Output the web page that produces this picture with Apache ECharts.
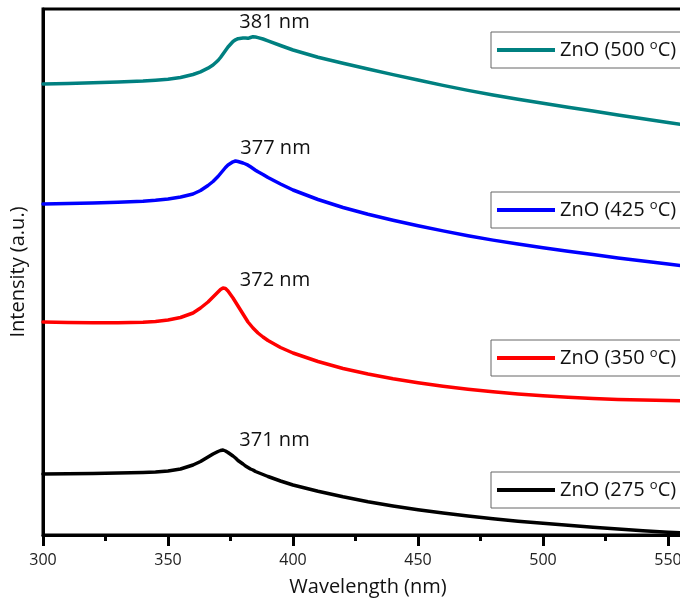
<!DOCTYPE html>
<html>
<head>
<meta charset="utf-8">
<script src="https://cdn.jsdelivr.net/npm/echarts@6/dist/echarts.min.js"></script>
<style>
  html, body { margin: 0; padding: 0; background: #fff; }
  #chart { width: 680px; height: 598px; }
</style>
</head>
<body>
<div id="chart"></div>
<script>
// Absorption spectra of ZnO films annealed at different temperatures (offset for clarity)
const wavelength = [300,310,320,330,340,345,350,355,360,363,366,368,370,371,372,373,374,376,377,378,380,381,382,383,384,385,386,388,390,395,400,410,420,430,440,450,460,470,480,490,500,510,520,530,540,550,555];

const zno275 = [0.59,0.592,0.595,0.60,0.605,0.61,0.62,0.64,0.68,0.715,0.76,0.79,0.815,0.825,0.83,0.82,0.805,0.77,0.75,0.725,0.69,0.67,0.655,0.64,0.63,0.615,0.605,0.585,0.565,0.52,0.48,0.418,0.362,0.313,0.27,0.232,0.199,0.169,0.142,0.118,0.097,0.077,0.058,0.04,0.023,0.008,0.002];
const zno350 = [2.11,2.106,2.103,2.102,2.107,2.115,2.13,2.155,2.20,2.25,2.31,2.36,2.41,2.435,2.45,2.445,2.42,2.35,2.31,2.27,2.19,2.15,2.11,2.08,2.05,2.025,2.00,1.96,1.925,1.855,1.80,1.715,1.645,1.59,1.543,1.503,1.468,1.438,1.412,1.39,1.372,1.357,1.345,1.336,1.33,1.325,1.322];
const zno425 = [3.29,3.295,3.30,3.308,3.318,3.327,3.34,3.36,3.39,3.425,3.475,3.515,3.565,3.595,3.625,3.655,3.68,3.712,3.72,3.715,3.70,3.69,3.678,3.662,3.645,3.628,3.612,3.585,3.555,3.49,3.43,3.335,3.255,3.188,3.128,3.072,3.021,2.973,2.929,2.889,2.853,2.818,2.784,2.751,2.72,2.69,2.675];
const zno500 = [4.49,4.495,4.503,4.51,4.52,4.528,4.538,4.555,4.585,4.612,4.648,4.68,4.725,4.755,4.79,4.825,4.86,4.915,4.932,4.943,4.95,4.95,4.947,4.955,4.963,4.96,4.954,4.94,4.922,4.875,4.83,4.758,4.697,4.64,4.584,4.53,4.476,4.426,4.38,4.338,4.298,4.258,4.219,4.181,4.143,4.105,4.087];

const temperatures = [275, 350, 425, 500];
const peakWavelengths = [371, 372, 377, 381];

const FONT = '"Open Sans", "Noto Sans", sans-serif';
const spectra = [zno275, zno350, zno425, zno500];
const colors = ['#000000', '#ff0000', '#0000ff', '#008080'];
const labelOffsets = [[54, -10], [52, -8], [40, -13], [29, -16]];
const legendTops = [472, 340, 192, 32];

const names = temperatures.map(t => 'ZnO (' + t + ' °C)');

const series = spectra.map((vals, i) => {
  const peak = peakWavelengths[i];
  const peakVal = vals[wavelength.indexOf(peak)];
  return {
    name: names[i],
    type: 'line',
    data: wavelength.map((w, k) => [w, vals[k]]),
    symbol: 'none',
    smooth: false,
    lineStyle: { color: colors[i], width: 3.5, join: 'round', cap: 'round' },
    itemStyle: { color: colors[i] },
    markPoint: {
      symbol: 'circle',
      symbolSize: 0,
      data: [{ coord: [peak, peakVal] }],
      label: {
        show: true,
        position: 'inside',
        formatter: peak + ' nm',
        offset: labelOffsets[i],
        fontFamily: FONT,
        fontSize: 20,
        color: '#111'
      }
    }
  };
});

const legends = names.map((n, i) => ({
  data: [{ name: n, icon: 'rect' }],
  left: 491,
  top: legendTops[i],
  orient: 'horizontal',
  padding: [7, 14, 7, 6],
  itemWidth: 58,
  itemHeight: 4,
  borderColor: '#666',
  borderWidth: 1,
  selectedMode: false,
  formatter: name => name.replace(' °C', ' {sup|o}C'),
  textStyle: {
    fontFamily: FONT,
    fontSize: 20,
    color: '#111',
    lineHeight: 22,
    rich: {
      sup: { fontFamily: FONT, fontSize: 13, lineHeight: 10, verticalAlign: 'top', color: '#111' }
    }
  }
}));

const chart = echarts.init(document.getElementById('chart'));
chart.setOption({
  animation: false,
  backgroundColor: '#fff',
  grid: {
    left: 43, top: 9, bottom: 63, width: 650,
    containLabel: false,
    outerBoundsMode: 'none',
    show: true, borderColor: '#000', borderWidth: 3
  },
  xAxis: {
    type: 'value', min: 300, max: 560, interval: 50,
    name: 'Wavelength (nm)', nameLocation: 'middle', nameGap: 42,
    nameTextStyle: { fontFamily: FONT, fontSize: 20, color: '#111' },
    axisLine: { onZero: false, lineStyle: { color: '#000', width: 3 } },
    axisTick: { length: 11, lineStyle: { color: '#000', width: 3 } },
    minorTick: { show: true, splitNumber: 2, length: 6, lineStyle: { color: '#000', width: 3 } },
    axisLabel: { fontFamily: FONT, fontSize: 16, color: '#222', margin: 17, showMaxLabel: false },
    splitLine: { show: false }
  },
  yAxis: {
    type: 'value', min: -0.02, max: 5.24,
    name: 'Intensity (a.u.)', nameLocation: 'middle', nameGap: 15,
    nameTextStyle: { fontFamily: FONT, fontSize: 20, color: '#111' },
    axisLine: { show: true, onZero: false, lineStyle: { color: '#000', width: 3 } },
    axisTick: { show: false },
    axisLabel: { show: false },
    splitLine: { show: false }
  },
  legend: legends,
  series: series
});
</script>
</body>
</html>
